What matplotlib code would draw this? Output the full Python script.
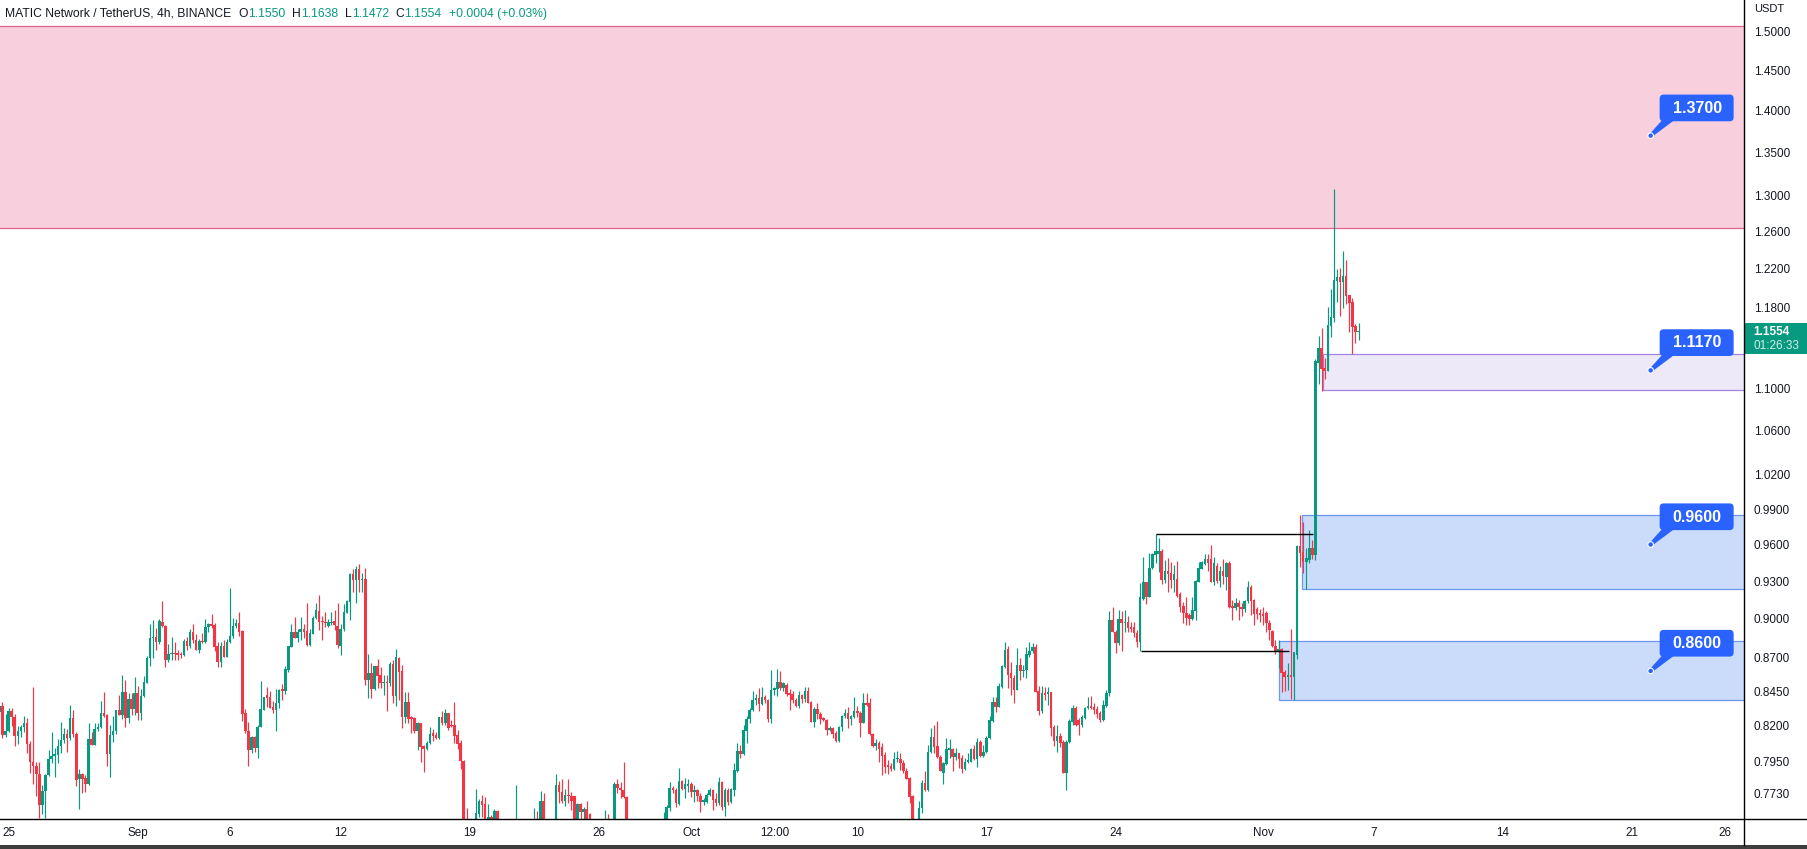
import numpy as np
import pandas as pd
import matplotlib
matplotlib.use('Agg')
import matplotlib.pyplot as plt
import matplotlib.dates as mdates
from matplotlib.patches import Rectangle, FancyBboxPatch, Polygon, Circle
from matplotlib.lines import Line2D
from matplotlib.transforms import IdentityTransform
from matplotlib.ticker import NullLocator

plt.rcParams['font.family'] = ['Liberation Sans', 'DejaVu Sans']

# ---- data (MATICUSDT, 4h bars) ----
first_bar = '2022-08-24 12:00'

opens = [
    0.8297, 0.8345, 0.8135, 0.8163, 0.8307, 0.8259, 0.8130, 0.8163, 0.8192, 0.8221,
    0.8069, 0.7944, 0.7916, 0.7861, 0.7654, 0.7749, 0.7857, 0.7967, 0.7990, 0.7995,
    0.8060, 0.8099, 0.8144, 0.8116, 0.8254, 0.8144, 0.7829, 0.7864, 0.7837, 0.7798,
    0.8106, 0.8066, 0.8178, 0.8192, 0.8288, 0.8278, 0.8004, 0.8135, 0.8163, 0.8312,
    0.8278, 0.8443, 0.8254, 0.8394, 0.8321, 0.8438, 0.8288, 0.8414, 0.8512, 0.8700,
    0.8848, 0.8858, 0.8817, 0.8973, 0.8947, 0.8686, 0.8727, 0.8737, 0.8732, 0.8722,
    0.8717, 0.8827, 0.8792, 0.8900, 0.8838, 0.8762, 0.8827, 0.8820, 0.8936, 0.8957,
    0.8952, 0.8787, 0.8671, 0.8787, 0.8706, 0.8822, 0.8863, 0.8941, 0.8967, 0.8905,
    0.8293, 0.8163, 0.8032, 0.8120, 0.8046, 0.8192, 0.8316, 0.8419, 0.8409, 0.8336,
    0.8316, 0.8365, 0.8463, 0.8448, 0.8611, 0.8782, 0.8900, 0.8848, 0.8895, 0.8916,
    0.8905, 0.8797, 0.8884, 0.9004, 0.9061, 0.8983, 0.8978, 0.8947, 0.8965, 0.8983,
    0.8942, 0.8792, 0.8916, 0.9046, 0.9132, 0.9359, 0.9306, 0.9398, 0.9306, 0.9317,
    0.8531, 0.8585, 0.8463, 0.8638, 0.8570, 0.8507, 0.8517, 0.8507, 0.8651, 0.8412,
    0.8698, 0.8601, 0.8259, 0.8370, 0.8254, 0.8254, 0.8159, 0.8216, 0.8058, 0.8039,
    0.8078, 0.8149, 0.8135, 0.8116, 0.8259, 0.8216, 0.8288, 0.8207, 0.8207, 0.8135,
    0.8078, 0.7953, 0.7500, 0.7420, 0.7450, 0.7480, 0.7595, 0.7681, 0.7661, 0.7520,
    0.7577, 0.7520, 0.7614, 0.7500, 0.7450, 0.7410, 0.7440, 0.7490, 0.7450, 0.7520,
    0.7460, 0.7420, 0.7380, 0.7410, 0.7450, 0.7520, 0.7460, 0.7681, 0.7500, 0.7440,
    0.7470, 0.7480, 0.7790, 0.7744, 0.7681, 0.7722, 0.7717, 0.7713, 0.7520, 0.7659,
    0.7610, 0.7628, 0.7592, 0.7480, 0.7430, 0.7400, 0.7380, 0.7420, 0.7500, 0.7440,
    0.7460, 0.7794, 0.7771, 0.7757, 0.7708, 0.7450, 0.7410, 0.7370, 0.7330, 0.7390,
    0.7360, 0.7320, 0.7380, 0.7430, 0.7400, 0.7450, 0.7420, 0.7520, 0.7632, 0.7767,
    0.7757, 0.7663, 0.7816, 0.7762, 0.7780, 0.7796, 0.7738, 0.7756, 0.7716, 0.7672,
    0.7672, 0.7718, 0.7756, 0.7694, 0.7667, 0.7805, 0.7638, 0.7756, 0.7674, 0.7756,
    0.7886, 0.8025, 0.8001, 0.8166, 0.8247, 0.8315, 0.8382, 0.8403, 0.8355, 0.8410,
    0.8386, 0.8250, 0.8460, 0.8465, 0.8518, 0.8474, 0.8494, 0.8440, 0.8430, 0.8386,
    0.8339, 0.8422, 0.8393, 0.8452, 0.8374, 0.8230, 0.8322, 0.8283, 0.8252, 0.8242,
    0.8171, 0.8187, 0.8147, 0.8093, 0.8190, 0.8267, 0.8291, 0.8247, 0.8262, 0.8308,
    0.8291, 0.8223, 0.8362, 0.8362, 0.8142, 0.8058, 0.8076, 0.8048, 0.7994, 0.7921,
    0.7921, 0.7898, 0.7964, 0.7964, 0.7941, 0.7884, 0.7837, 0.7711, 0.7500, 0.7520,
    0.7633, 0.7800, 0.7751, 0.8015, 0.8119, 0.8058, 0.7983, 0.7873, 0.7933, 0.8030,
    0.8037, 0.7983, 0.8006, 0.7976, 0.7895, 0.7946, 0.7948, 0.8037, 0.7967, 0.8088,
    0.7988, 0.8013, 0.8114, 0.8237, 0.8372, 0.8337, 0.8484, 0.8628, 0.8764, 0.8582,
    0.8550, 0.8460, 0.8645, 0.8600, 0.8607, 0.8721, 0.8747, 0.8784, 0.8452, 0.8306,
    0.8440, 0.8430, 0.8447, 0.8188, 0.8095, 0.8128, 0.8088, 0.7872, 0.8088, 0.8229,
    0.8330, 0.8241, 0.8205, 0.8255, 0.8325, 0.8345, 0.8335, 0.8323, 0.8289, 0.8241,
    0.8345, 0.8440, 0.8991, 0.8900, 0.8809, 0.8996, 0.8965, 0.8978, 0.8935, 0.8935,
    0.8891, 0.8821, 0.9154, 0.9296, 0.9174, 0.9403, 0.9515, 0.9520, 0.9542, 0.9308,
    0.9384, 0.9368, 0.9308, 0.9313, 0.9193, 0.9097, 0.9043, 0.9029, 0.8998, 0.9061,
    0.9296, 0.9398, 0.9442, 0.9483, 0.9483, 0.9296, 0.9420, 0.9302, 0.9380, 0.9335,
    0.9450, 0.9094, 0.9088, 0.9126, 0.9094, 0.9080, 0.9140, 0.9255, 0.9148, 0.9080,
    0.9043, 0.9037, 0.9043, 0.8964, 0.8907, 0.8790, 0.8742, 0.8768, 0.8594, 0.8552,
    0.8569, 0.8552, 0.8724, 0.9585, 0.9537, 0.9458, 0.9472, 0.9574, 0.9512, 1.1245,
    1.1385, 1.1189, 1.1166, 1.1614, 1.1687, 1.2076, 1.2111, 1.2066, 1.2126, 1.1925,
    1.1853, 1.1611, 1.1550,
]

highs = [
    0.8350, 0.8370, 0.8285, 0.8326, 0.8328, 0.8285, 0.8195, 0.8207, 0.8271, 0.8254,
    0.8092, 0.8483, 0.7944, 0.7945, 0.7785, 0.7861, 0.8027, 0.8154, 0.8046, 0.8106,
    0.8230, 0.8183, 0.8178, 0.8350, 0.8314, 0.8154, 0.7898, 0.7868, 0.7857, 0.8216,
    0.8158, 0.8216, 0.8221, 0.8379, 0.8443, 0.8283, 0.8207, 0.8269, 0.8312, 0.8424,
    0.8571, 0.8532, 0.8436, 0.8438, 0.8556, 0.8492, 0.8463, 0.8561, 0.8711, 0.8962,
    0.8991, 0.8926, 0.8996, 0.9140, 0.8952, 0.8802, 0.8858, 0.8822, 0.8757, 0.8740,
    0.8843, 0.8858, 0.8916, 0.8957, 0.8879, 0.8843, 0.8889, 0.8999, 0.8967, 0.9038,
    0.8967, 0.8817, 0.8817, 0.8832, 0.8843, 0.9241, 0.9004, 0.8999, 0.9054, 0.8910,
    0.8321, 0.8226, 0.8125, 0.8125, 0.8207, 0.8522, 0.8409, 0.8483, 0.8448, 0.8375,
    0.8463, 0.8463, 0.8502, 0.8636, 0.8792, 0.8957, 0.9015, 0.8921, 0.9015, 0.8962,
    0.9126, 0.8921, 0.9025, 0.9124, 0.9187, 0.9025, 0.9056, 0.8994, 0.9051, 0.9066,
    0.9124, 0.8957, 0.9113, 0.9148, 0.9365, 0.9398, 0.9425, 0.9439, 0.9362, 0.9406,
    0.8729, 0.8661, 0.8638, 0.8691, 0.8633, 0.8570, 0.8570, 0.8666, 0.8679, 0.8767,
    0.8706, 0.8648, 0.8441, 0.8441, 0.8273, 0.8266, 0.8226, 0.8223, 0.8064, 0.8092,
    0.8192, 0.8178, 0.8152, 0.8266, 0.8307, 0.8321, 0.8288, 0.8242, 0.8370, 0.8171,
    0.8099, 0.7960, 0.7636, 0.7500, 0.7520, 0.7762, 0.7695, 0.7722, 0.7704, 0.7661,
    0.7585, 0.7630, 0.7620, 0.7540, 0.7520, 0.7480, 0.7530, 0.7540, 0.7790, 0.7545,
    0.7520, 0.7480, 0.7450, 0.7500, 0.7636, 0.7614, 0.7749, 0.7733, 0.7540, 0.7510,
    0.7530, 0.7864, 0.7816, 0.7830, 0.7762, 0.7830, 0.7740, 0.7717, 0.7665, 0.7665,
    0.7643, 0.7681, 0.7600, 0.7530, 0.7490, 0.7470, 0.7450, 0.7621, 0.7592, 0.7520,
    0.7807, 0.7830, 0.7807, 0.7944, 0.7712, 0.7520, 0.7470, 0.7430, 0.7410, 0.7450,
    0.7420, 0.7400, 0.7460, 0.7490, 0.7480, 0.7530, 0.7610, 0.7654, 0.7807, 0.7778,
    0.7771, 0.7902, 0.7823, 0.7834, 0.7830, 0.7805, 0.7789, 0.7762, 0.7734, 0.7700,
    0.7734, 0.7767, 0.7762, 0.7734, 0.7845, 0.7812, 0.7767, 0.7767, 0.7767, 0.7937,
    0.8077, 0.8065, 0.8206, 0.8267, 0.8327, 0.8452, 0.8430, 0.8471, 0.8484, 0.8422,
    0.8393, 0.8608, 0.8484, 0.8615, 0.8603, 0.8520, 0.8514, 0.8465, 0.8455, 0.8398,
    0.8452, 0.8430, 0.8484, 0.8484, 0.8379, 0.8334, 0.8362, 0.8295, 0.8262, 0.8247,
    0.8199, 0.8190, 0.8159, 0.8199, 0.8279, 0.8320, 0.8334, 0.8279, 0.8408, 0.8344,
    0.8303, 0.8436, 0.8440, 0.8398, 0.8147, 0.8105, 0.8095, 0.8081, 0.8018, 0.7960,
    0.7937, 0.8018, 0.8023, 0.8006, 0.7960, 0.7902, 0.7845, 0.7723, 0.7550, 0.7678,
    0.7823, 0.7880, 0.8065, 0.8183, 0.8206, 0.8235, 0.7994, 0.7948, 0.8114, 0.8109,
    0.8046, 0.8041, 0.8011, 0.7994, 0.7971, 0.8006, 0.8041, 0.8065, 0.8114, 0.8100,
    0.8062, 0.8126, 0.8267, 0.8408, 0.8408, 0.8509, 0.8646, 0.8821, 0.8789, 0.8670,
    0.8570, 0.8771, 0.8696, 0.8645, 0.8784, 0.8821, 0.8813, 0.8804, 0.8489, 0.8489,
    0.8484, 0.8479, 0.8447, 0.8205, 0.8205, 0.8147, 0.8100, 0.8100, 0.8246, 0.8350,
    0.8342, 0.8253, 0.8277, 0.8337, 0.8405, 0.8418, 0.8364, 0.8340, 0.8306, 0.8386,
    0.8460, 0.9057, 0.9092, 0.8913, 0.9071, 0.9057, 0.9071, 0.9023, 0.8978, 0.8978,
    0.8913, 0.9282, 0.9500, 0.9296, 0.9527, 0.9528, 0.9686, 0.9652, 0.9561, 0.9472,
    0.9491, 0.9458, 0.9431, 0.9464, 0.9215, 0.9135, 0.9175, 0.9043, 0.9175, 0.9310,
    0.9458, 0.9461, 0.9517, 0.9517, 0.9594, 0.9500, 0.9450, 0.9420, 0.9480, 0.9458,
    0.9464, 0.9148, 0.9167, 0.9148, 0.9121, 0.9148, 0.9302, 0.9269, 0.9154, 0.9094,
    0.9080, 0.9094, 0.9061, 0.8991, 0.8912, 0.8835, 0.8832, 0.8776, 0.8607, 0.8663,
    0.8917, 0.8742, 0.9593, 0.9849, 0.9793, 0.9568, 0.9723, 0.9639, 1.1282, 1.1514,
    1.1594, 1.1289, 1.1806, 1.1987, 1.3080, 1.2200, 1.2207, 1.2393, 1.2296, 1.1932,
    1.1895, 1.1631, 1.1638,
]

lows = [
    0.8290, 0.8116, 0.8123, 0.8155, 0.8195, 0.8060, 0.8069, 0.8123, 0.8155, 0.8011,
    0.7868, 0.7798, 0.7717, 0.7570, 0.7595, 0.7570, 0.7852, 0.7937, 0.7839, 0.7937,
    0.8007, 0.8076, 0.8018, 0.8100, 0.8123, 0.7778, 0.7630, 0.7737, 0.7744, 0.7789,
    0.8064, 0.8064, 0.8159, 0.8183, 0.8259, 0.7921, 0.7839, 0.8083, 0.8144, 0.8278,
    0.8250, 0.8188, 0.8218, 0.8278, 0.8278, 0.8242, 0.8242, 0.8409, 0.8507, 0.8641,
    0.8700, 0.8759, 0.8807, 0.8939, 0.8633, 0.8668, 0.8683, 0.8683, 0.8679, 0.8700,
    0.8709, 0.8759, 0.8772, 0.8810, 0.8759, 0.8732, 0.8810, 0.8810, 0.8900, 0.8926,
    0.8747, 0.8633, 0.8633, 0.8703, 0.8703, 0.8810, 0.8848, 0.8931, 0.8863, 0.8235,
    0.8147, 0.7921, 0.8007, 0.8018, 0.7976, 0.8188, 0.8314, 0.8338, 0.8326, 0.8290,
    0.8163, 0.8326, 0.8387, 0.8433, 0.8591, 0.8782, 0.8848, 0.8817, 0.8835, 0.8848,
    0.8792, 0.8792, 0.8879, 0.8996, 0.8913, 0.8835, 0.8939, 0.8934, 0.8952, 0.8913,
    0.8772, 0.8722, 0.8903, 0.9041, 0.8991, 0.9208, 0.9127, 0.9213, 0.9213, 0.8497,
    0.8397, 0.8402, 0.8461, 0.8475, 0.8473, 0.8419, 0.8309, 0.8485, 0.8365, 0.8345,
    0.8387, 0.8183, 0.8223, 0.8223, 0.8147, 0.8147, 0.8032, 0.7942, 0.7879, 0.8032,
    0.8071, 0.8094, 0.8106, 0.8106, 0.8207, 0.8207, 0.8171, 0.8190, 0.8080, 0.8037,
    0.7900, 0.7300, 0.7350, 0.7380, 0.7400, 0.7440, 0.7577, 0.7577, 0.7480, 0.7500,
    0.7490, 0.7500, 0.7460, 0.7420, 0.7380, 0.7360, 0.7400, 0.7430, 0.7430, 0.7420,
    0.7390, 0.7350, 0.7330, 0.7380, 0.7420, 0.7420, 0.7440, 0.7460, 0.7410, 0.7400,
    0.7420, 0.7450, 0.7665, 0.7665, 0.7647, 0.7665, 0.7621, 0.7480, 0.7480, 0.7520,
    0.7540, 0.7470, 0.7440, 0.7400, 0.7360, 0.7340, 0.7330, 0.7380, 0.7400, 0.7400,
    0.7430, 0.7733, 0.7699, 0.7699, 0.7400, 0.7380, 0.7340, 0.7300, 0.7280, 0.7330,
    0.7290, 0.7270, 0.7340, 0.7370, 0.7360, 0.7400, 0.7390, 0.7490, 0.7614, 0.7733,
    0.7643, 0.7654, 0.7755, 0.7699, 0.7744, 0.7705, 0.7672, 0.7678, 0.7605, 0.7656,
    0.7667, 0.7712, 0.7623, 0.7645, 0.7656, 0.7623, 0.7579, 0.7656, 0.7667, 0.7716,
    0.7879, 0.7971, 0.7997, 0.8078, 0.8218, 0.8303, 0.8350, 0.8303, 0.8350, 0.8362,
    0.8230, 0.8218, 0.8422, 0.8415, 0.8460, 0.8452, 0.8415, 0.8315, 0.8362, 0.8334,
    0.8327, 0.8362, 0.8374, 0.8362, 0.8230, 0.8194, 0.8247, 0.8213, 0.8237, 0.8135,
    0.8166, 0.8111, 0.8083, 0.8088, 0.8159, 0.8252, 0.8183, 0.8206, 0.8252, 0.8262,
    0.8123, 0.8218, 0.8339, 0.8135, 0.8053, 0.8030, 0.7948, 0.7854, 0.7868, 0.7863,
    0.7886, 0.7891, 0.7948, 0.7891, 0.7873, 0.7828, 0.7667, 0.7450, 0.7440, 0.7500,
    0.7600, 0.7745, 0.7745, 0.8006, 0.8006, 0.7971, 0.7880, 0.7794, 0.7926, 0.7971,
    0.7886, 0.7960, 0.7902, 0.7868, 0.7891, 0.7937, 0.7944, 0.7960, 0.7914, 0.7978,
    0.7983, 0.8006, 0.8109, 0.8230, 0.8300, 0.8332, 0.8472, 0.8621, 0.8472, 0.8423,
    0.8362, 0.8460, 0.8533, 0.8557, 0.8545, 0.8708, 0.8734, 0.8442, 0.8277, 0.8294,
    0.8386, 0.8350, 0.8124, 0.8058, 0.8012, 0.8053, 0.7868, 0.7755, 0.8081, 0.8205,
    0.8200, 0.8136, 0.8193, 0.8246, 0.8318, 0.8323, 0.8284, 0.8253, 0.8224, 0.8236,
    0.8338, 0.8416, 0.8893, 0.8734, 0.8796, 0.8747, 0.8900, 0.8893, 0.8900, 0.8856,
    0.8779, 0.8749, 0.9148, 0.9115, 0.9174, 0.9395, 0.9450, 0.9375, 0.9273, 0.9286,
    0.9215, 0.9242, 0.9215, 0.9175, 0.9050, 0.8969, 0.8948, 0.8950, 0.8993, 0.8987,
    0.9291, 0.9395, 0.9434, 0.9379, 0.9291, 0.9269, 0.9283, 0.9250, 0.9275, 0.9230,
    0.9088, 0.8993, 0.9066, 0.8993, 0.9020, 0.9053, 0.9126, 0.9032, 0.8950, 0.9000,
    0.8972, 0.8950, 0.8899, 0.8834, 0.8784, 0.8728, 0.8619, 0.8447, 0.8454, 0.8459,
    0.8390, 0.8382, 0.8688, 0.9417, 0.9362, 0.9237, 0.9445, 0.9477, 0.9470, 1.1037,
    1.0971, 1.1083, 1.1166, 1.1504, 1.1653, 1.1859, 1.1711, 1.1790, 1.1831, 1.1545,
    1.1328, 1.1436, 1.1472,
]

closes = [
    0.8345, 0.8135, 0.8163, 0.8307, 0.8259, 0.8130, 0.8163, 0.8192, 0.8216, 0.8069,
    0.7944, 0.7916, 0.7861, 0.7654, 0.7749, 0.7857, 0.7967, 0.7990, 0.7995, 0.8060,
    0.8099, 0.8144, 0.8116, 0.8254, 0.8144, 0.7825, 0.7864, 0.7829, 0.7798, 0.8106,
    0.8066, 0.8178, 0.8192, 0.8288, 0.8273, 0.8004, 0.8135, 0.8163, 0.8312, 0.8278,
    0.8443, 0.8254, 0.8394, 0.8321, 0.8438, 0.8288, 0.8414, 0.8517, 0.8700, 0.8848,
    0.8858, 0.8817, 0.8983, 0.8947, 0.8686, 0.8727, 0.8737, 0.8727, 0.8722, 0.8717,
    0.8827, 0.8792, 0.8900, 0.8838, 0.8762, 0.8827, 0.8820, 0.8936, 0.8957, 0.8947,
    0.8782, 0.8671, 0.8787, 0.8706, 0.8822, 0.8863, 0.8941, 0.8967, 0.8900, 0.8281,
    0.8159, 0.8032, 0.8120, 0.8046, 0.8192, 0.8321, 0.8409, 0.8399, 0.8331, 0.8316,
    0.8365, 0.8458, 0.8448, 0.8616, 0.8787, 0.8900, 0.8848, 0.8895, 0.8916, 0.8900,
    0.8797, 0.8889, 0.9004, 0.9066, 0.8978, 0.8973, 0.8965, 0.8973, 0.8978, 0.8952,
    0.8797, 0.8916, 0.9056, 0.9140, 0.9359, 0.9306, 0.9398, 0.9306, 0.9317, 0.8536,
    0.8585, 0.8463, 0.8638, 0.8565, 0.8507, 0.8517, 0.8507, 0.8651, 0.8412, 0.8706,
    0.8596, 0.8259, 0.8370, 0.8250, 0.8250, 0.8159, 0.8221, 0.8053, 0.8039, 0.8078,
    0.8140, 0.8130, 0.8116, 0.8259, 0.8216, 0.8288, 0.8183, 0.8195, 0.8130, 0.8073,
    0.7949, 0.7350, 0.7420, 0.7450, 0.7480, 0.7603, 0.7681, 0.7654, 0.7520, 0.7577,
    0.7520, 0.7614, 0.7500, 0.7450, 0.7410, 0.7440, 0.7490, 0.7450, 0.7520, 0.7460,
    0.7420, 0.7380, 0.7410, 0.7450, 0.7520, 0.7460, 0.7681, 0.7500, 0.7440, 0.7470,
    0.7480, 0.7790, 0.7740, 0.7681, 0.7722, 0.7711, 0.7681, 0.7520, 0.7659, 0.7610,
    0.7628, 0.7500, 0.7480, 0.7430, 0.7400, 0.7380, 0.7420, 0.7500, 0.7440, 0.7460,
    0.7794, 0.7767, 0.7753, 0.7706, 0.7450, 0.7410, 0.7370, 0.7330, 0.7390, 0.7360,
    0.7320, 0.7380, 0.7430, 0.7400, 0.7450, 0.7420, 0.7520, 0.7641, 0.7767, 0.7753,
    0.7668, 0.7816, 0.7762, 0.7794, 0.7794, 0.7738, 0.7756, 0.7712, 0.7672, 0.7689,
    0.7723, 0.7756, 0.7689, 0.7667, 0.7805, 0.7638, 0.7756, 0.7674, 0.7762, 0.7891,
    0.8025, 0.8001, 0.8171, 0.8250, 0.8315, 0.8386, 0.8398, 0.8355, 0.8410, 0.8386,
    0.8250, 0.8460, 0.8471, 0.8518, 0.8474, 0.8514, 0.8430, 0.8425, 0.8383, 0.8339,
    0.8422, 0.8393, 0.8452, 0.8367, 0.8230, 0.8322, 0.8283, 0.8247, 0.8242, 0.8171,
    0.8187, 0.8142, 0.8093, 0.8190, 0.8267, 0.8291, 0.8247, 0.8267, 0.8308, 0.8291,
    0.8223, 0.8362, 0.8350, 0.8138, 0.8058, 0.8081, 0.8034, 0.7990, 0.7914, 0.7914,
    0.7898, 0.7964, 0.7966, 0.7941, 0.7880, 0.7832, 0.7707, 0.7500, 0.7520, 0.7633,
    0.7800, 0.7751, 0.8015, 0.8119, 0.8053, 0.7978, 0.7880, 0.7937, 0.8037, 0.8037,
    0.7983, 0.8006, 0.7967, 0.7895, 0.7946, 0.7960, 0.8037, 0.7967, 0.8088, 0.7988,
    0.8018, 0.8114, 0.8242, 0.8372, 0.8337, 0.8489, 0.8637, 0.8759, 0.8570, 0.8545,
    0.8460, 0.8645, 0.8600, 0.8607, 0.8728, 0.8754, 0.8779, 0.8447, 0.8306, 0.8440,
    0.8423, 0.8447, 0.8186, 0.8095, 0.8128, 0.8081, 0.7872, 0.8088, 0.8234, 0.8330,
    0.8205, 0.8205, 0.8260, 0.8325, 0.8345, 0.8330, 0.8313, 0.8284, 0.8241, 0.8350,
    0.8440, 0.8991, 0.8900, 0.8809, 0.8996, 0.8965, 0.8978, 0.8931, 0.8922, 0.8887,
    0.8821, 0.9174, 0.9296, 0.9174, 0.9403, 0.9520, 0.9545, 0.9548, 0.9308, 0.9384,
    0.9357, 0.9308, 0.9357, 0.9183, 0.9092, 0.9043, 0.9003, 0.8998, 0.9069, 0.9302,
    0.9403, 0.9453, 0.9483, 0.9447, 0.9296, 0.9450, 0.9302, 0.9380, 0.9340, 0.9450,
    0.9094, 0.9088, 0.9126, 0.9090, 0.9080, 0.9140, 0.9255, 0.9140, 0.9037, 0.9037,
    0.9029, 0.9024, 0.8964, 0.8912, 0.8790, 0.8750, 0.8768, 0.8587, 0.8552, 0.8569,
    0.8552, 0.8742, 0.9585, 0.9532, 0.9458, 0.9486, 0.9574, 0.9512, 1.1262, 1.1385,
    1.1182, 1.1166, 1.1621, 1.1704, 1.2083, 1.2111, 1.2066, 1.2126, 1.1918, 1.1846,
    1.1604, 1.1545, 1.1554,
]

# supply / demand zones drawn on the chart
zone_starts = ['2022-08-20 00:00', '2022-11-04 06:00', '2022-11-03 02:00', '2022-11-01 21:00']
zone_lows = [1.2643, 1.0978, 0.9233, 0.8383]
zone_highs = [1.5065, 1.1330, 0.9850, 0.8825]

# consolidation range lines
range_levels = [0.9686, 0.8749]
range_starts = ['2022-10-26 05:00', '2022-10-25 09:00']
range_ends = ['2022-11-03 17:00', '2022-11-02 10:00']

# price callouts
callout_levels = [1.3700, 1.1170, 0.9600, 0.8600]
callout_time = '2022-11-22 00:00'

y_ticks = [1.5, 1.45, 1.4, 1.35, 1.3, 1.26, 1.22, 1.18, 1.10, 1.06, 1.02,
           0.99, 0.96, 0.93, 0.90, 0.87, 0.845, 0.82, 0.795, 0.773]
x_tick_dates = ['2022-08-25', '2022-09-01', '2022-09-06', '2022-09-12', '2022-09-19',
                '2022-09-26', '2022-10-01', '2022-10-05 12:00', '2022-10-10', '2022-10-17',
                '2022-10-24', '2022-11-01', '2022-11-07', '2022-11-14', '2022-11-21',
                '2022-11-26']
x_tick_labels = ['25', 'Sep', '6', '12', '19', '26', 'Oct', '12:00', '10', '17', '24',
                 'Nov', '7', '14', '21', '26']

header_parts = [('MATIC Network / TetherUS, 4h, BINANCE', 'dark'), ('O', 'dark'), ('1.1550', 'green'),
                ('H', 'dark'), ('1.1638', 'green'), ('L', 'dark'), ('1.1472', 'green'),
                ('C', 'dark'), ('1.1554', 'green'), ('+0.0004 (+0.03%)', 'green')]
countdown = '01:26:33'

# ---- style ----
GREEN = '#089981'
RED = '#f23645'
DARK = '#131722'
BLUE = '#2962ff'
W, H = 1808, 849


def dnum(s):
    return mdates.date2num(pd.Timestamp(s))


fig = plt.figure(figsize=(W / 100, H / 100), dpi=100)
fig.patch.set_facecolor('white')
ax = fig.add_axes([0, 30 / H, 1744 / W, 819 / H])
ax.set_yscale('log')
ax.set_ylim(0.7561, 1.5416)
x0 = dnum('2022-08-25')
ax.set_xlim(x0 - 0.466, x0 + 94.06)
xl, xr = ax.get_xlim()

# zones
fills = ['#f8cfdc', '#eee9f8', '#cbdcfb', '#cbdcfb']
edges = ['#e0648d', '#a385e0', '#6d97ef', '#6d97ef']
for i in range(len(zone_lows)):
    xs = max(dnum(zone_starts[i]), xl - 1)
    ax.add_patch(Rectangle((xs, zone_lows[i]), xr + 1 - xs, zone_highs[i] - zone_lows[i],
                           facecolor=fills[i], edgecolor=edges[i], linewidth=0.9, zorder=1))

# candles
t = mdates.date2num(pd.date_range(first_bar, periods=len(closes), freq='4h'))
o = np.array(opens)
h = np.array(highs)
l = np.array(lows)
c = np.array(closes)
col = np.where(c >= o, GREEN, RED)
ax.vlines(t, l, h, colors=col, linewidth=0.85, zorder=3)
bot = np.minimum(o, c)
hgt = np.maximum(np.abs(c - o), bot * 0.0012)
ax.bar(t, hgt, bottom=bot, width=4 / 24 * 0.82, color=col, linewidth=0, zorder=4)

# range lines
for lv, s, e in zip(range_levels, range_starts, range_ends):
    ax.hlines(lv, dnum(s), dnum(e), colors='black', linewidth=1.0, zorder=5)

# axes styling
for sp in ax.spines.values():
    sp.set_visible(False)
ax.yaxis.tick_right()
ax.set_yticks(y_ticks)
ax.set_yticklabels(['%.4f' % v for v in y_ticks])
ax.yaxis.set_minor_locator(NullLocator())
ax.tick_params(axis='y', length=0, pad=7, labelsize=8.5, labelcolor=DARK)
ax.set_xticks([dnum(s) for s in x_tick_dates])
ax.set_xticklabels(x_tick_labels)
ax.xaxis.set_minor_locator(NullLocator())
ax.tick_params(axis='x', length=0, pad=6, labelsize=8.4, labelcolor=DARK)

ident = IdentityTransform()
# frame lines and bottom bar
fig.add_artist(Line2D([0, W], [H - 819, H - 819], color='black', linewidth=1.0, transform=ident))
fig.add_artist(Line2D([1743.5, 1743.5], [4, H], color='black', linewidth=1.0, transform=ident))
fig.add_artist(Rectangle((0, 0), W, 4, facecolor='#3d3d3d', edgecolor='none', transform=ident))
fig.text(1754, H - 9, 'USDT', fontsize=8, color=DARK, va='center', transform=ident)

# callouts
xd = dnum(callout_time)
for lv in callout_levels:
    X, Y = ax.transData.transform((xd, lv))
    fig.add_artist(Polygon([(X - 1.2, Y + 1.4), (X + 1.4, Y - 1.2), (X + 23, Y + 15), (X + 11, Y + 15)],
                           closed=True, facecolor=BLUE, edgecolor='none', transform=ident))
    fig.add_artist(FancyBboxPatch((X + 9, Y + 14.4), 74, 26.7, boxstyle='round,pad=0,rounding_size=4',
                                  facecolor=BLUE, edgecolor='none', transform=ident))
    fig.add_artist(Circle((X, Y), 2.8, facecolor=BLUE, edgecolor='white', linewidth=0.8,
                          transform=ident))
    fig.text(X + 46.5, Y + 27.5, '%.4f' % lv, color='white', fontsize=11.5, fontweight='bold',
             ha='center', va='center', transform=ident)

# current price label
X, Y = ax.transData.transform((xr, closes[-1]))
fig.add_artist(Rectangle((1744.5, Y - 22.7), 64, 31.7, facecolor=GREEN, edgecolor='none', transform=ident))
fig.text(1753.5, Y, '%.4f' % closes[-1], color='white', fontsize=8.5, fontweight='bold',
         va='center', transform=ident)
fig.text(1753.5, Y - 14, countdown, color='#cdeee7', fontsize=8.5, va='center', transform=ident)

# header
r = fig.canvas.get_renderer()
hx = 5
for i, (s, k) in enumerate(header_parts):
    if (i > 0 and k == 'dark') or s.startswith('+'):
        hx += 7
    tx = fig.text(hx, H - 14, s, color=GREEN if k == 'green' else DARK, fontsize=8.7,
                  va='center', transform=ident)
    hx += tx.get_window_extent(r).width

fig.savefig('out.png', dpi=100, facecolor='white')
